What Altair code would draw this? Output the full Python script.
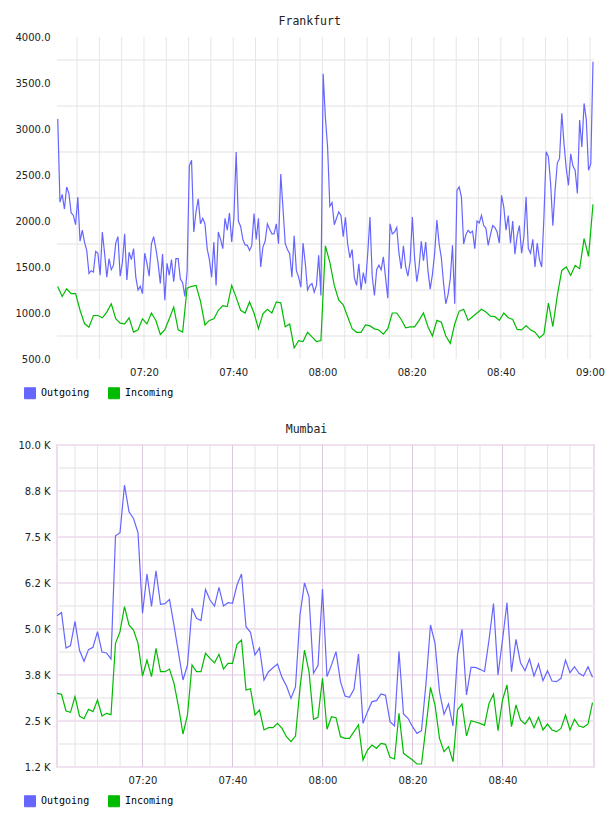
import altair as alt
import pandas as pd

FONT_MONO = "DejaVu Sans Mono"
FONT_SANS = "DejaVu Sans"

SERIES = ["Outgoing", "Incoming"]
SERIES_COLORS = ["#6666ff", "#00bb00"]

# Frankfurt outgoing traffic, one sample every 30 s from 07:00:40
fra_out = [
    3110, 2205, 2290, 2130, 2370, 2300, 2090, 2060, 1960, 2260,
    1780, 1900, 1770, 1680, 1430, 1460, 1445, 1670, 1650, 1410,
    1880, 1650, 1390, 1590, 1470, 1520, 1760, 1830, 1400, 1550,
    1860, 1360, 1660, 1580, 1700, 1390, 1250, 1290, 1210, 1650,
    1540, 1400, 1750, 1830, 1700, 1540, 1320, 1640, 1140, 1540,
    1410, 1580, 1340, 1590, 1590, 1370, 1330, 1180, 1450, 2600,
    2660, 1880, 2100, 2240, 1970, 2030, 1970, 1700, 1580, 1390,
    1770, 1300, 1880, 1800, 1700, 2030, 1900, 2087, 1772, 2040,
    2750, 2000, 1940, 1800, 1740, 1735, 1680, 1735, 2080, 1800,
    2030, 1500, 1717, 1780, 1970, 1910, 1860, 1860, 1970, 1753,
    2510, 2135, 1753, 1690, 1645, 1390, 1840, 1460, 1390, 1280,
    1760, 1540, 1250, 1300, 1320, 1227, 1300, 1626, 1191, 3600,
    3130, 2800, 2160, 2200, 1960, 2030, 2100, 2060, 1830, 2040,
    1750, 1600, 1690, 1380, 1300, 1536, 1250, 1440, 1320, 1650,
    2044, 1400, 1190, 1470, 1520, 1470, 1610, 1380, 1160, 1970,
    1860, 1880, 1930, 1650, 1480, 1730, 1500, 1400, 1560, 2044,
    1600, 1340, 1500, 1780, 1570, 1772, 1460, 1260, 1420, 1650,
    2010, 1750, 1600, 1320, 1100, 1200, 1372, 1735, 1100, 2335,
    2370, 2260, 1750, 1850, 1899, 1870, 1890, 1700, 2000, 1980,
    2060, 1950, 1920, 1735, 1850, 1950, 1930, 1880, 1760, 2280,
    2150, 1900, 2060, 1760, 2000, 1640, 1840, 1950, 1650, 1820,
    2262, 1700, 1650, 1800, 1500, 1760, 1580, 1500, 2044, 2752,
    2700, 2407, 1950, 2335, 2630, 2680, 3170, 2843, 2570, 2388,
    2730, 2600, 2550, 2300, 3097, 2806, 3278, 3100, 2552, 2620, 3732,
]

# Frankfurt incoming traffic, one sample per minute from 07:00:40
fra_in = [
    1289, 1180, 1263, 1210, 1210, 1030, 885, 846, 973, 973,
    948, 1010, 1100, 937, 890, 882, 948, 792, 817, 937,
    882, 1000, 919, 766, 817, 937, 1064, 817, 792, 1270,
    1290, 1300, 1130, 870, 919, 937, 1030, 1080, 1070, 1300,
    1170, 1030, 1000, 1120, 1000, 830, 990, 1040, 1000, 1120,
    1110, 850, 880, 620, 700, 690, 790, 740, 690, 700,
    1730, 1550, 1300, 1140, 1090, 960, 830, 790, 790, 870,
    860, 828, 815, 770, 830, 1000, 1000, 930, 840, 850,
    850, 920, 1000, 850, 750, 920, 900, 750, 670, 880,
    1020, 1040, 920, 960, 1000, 1040, 1010, 966, 960, 920,
    1000, 948, 930, 821, 817, 864, 817, 792, 730, 773,
    1107, 853, 1191, 1463, 1500, 1409, 1518, 1481, 1808, 1616, 2182,
]

# Mumbai traffic, one sample per minute from 07:01
mum_out = [
    5362, 5444, 4485, 4548, 5209, 4422, 4123, 4440, 4503, 4929,
    4376, 4349, 4186, 7535, 7616, 8912, 8187, 8005, 7616, 5426,
    6494, 5615, 6584, 5670, 5690, 5806, 5100, 4350, 3614, 4021,
    5562, 5290, 5227, 6076, 5787, 5624, 6132, 5624, 5715, 5697,
    6195, 6494, 5062, 4910, 4295, 4485, 3614, 3840, 3948, 4050,
    3685, 3450, 3115, 3432, 5380, 6252, 5875, 3795, 4004, 6086,
    3705, 4022, 4385, 3568, 3180, 3144, 3361, 4321, 2436, 2754,
    3026, 3053, 3234, 3198, 2482, 2364, 4385, 2690, 2573, 2346,
    2165, 2237, 3523, 5109, 4611, 3297, 2681, 2962, 2364, 4295,
    4991, 3207, 3958, 3958, 3904, 3840, 4702, 5693, 3750, 4702,
    5715, 3840, 4720, 4085, 3867, 4185, 3723, 4049, 3596, 3867,
    3587, 3568, 3660, 4158, 3813, 3976, 3795, 3723, 3976, 3686,
]
mum_in = [
    3252, 3225, 2772, 2735, 3162, 2636, 2563, 2817, 2754, 3071,
    2636, 2708, 2672, 4611, 4928, 5607, 5109, 4973, 4611, 3723,
    4158, 3705, 4475, 3840, 3840, 3912, 3523, 2889, 2147, 2663,
    4022, 3840, 3840, 4339, 4203, 4085, 4312, 3912, 4067, 4067,
    4584, 4702, 3342, 3378, 2663, 2799, 2256, 2319, 2319, 2436,
    2300, 2074, 1938, 2092, 3400, 4429, 3840, 2545, 2600, 3660,
    2274, 2617, 2590, 2074, 2029, 2029, 2210, 2391, 1440, 1712,
    1848, 1757, 1893, 1866, 1513, 1468, 2708, 1621, 1531, 1440,
    1332, 1332, 2346, 3414, 2935, 2029, 1667, 1803, 1395, 2799,
    2962, 2092, 2509, 2473, 2436, 2382, 2980, 3234, 2237, 3071,
    3477, 2346, 2935, 2527, 2418, 2600, 2319, 2600, 2256, 2418,
    2256, 2210, 2300, 2663, 2256, 2545, 2364, 2328, 2418, 2998,
]

# Axis ticks and grid levels
fra_y_ticks = [500, 1000, 1500, 2000, 2500, 3000, 3500, 4000]
fra_y_grid = [750, 1250, 1750, 2250, 2750, 3250, 3750]
mum_y_ticks = [1250, 2500, 3750, 5000, 6250, 7500, 8750, 10000]
mum_y_labels = ["1.2 K", "2.5 K", "3.8 K", "5.0 K", "6.2 K", "7.5 K", "8.8 K", "10.0 K"]
mum_y_grid = [1875, 3125, 4375, 5625, 6875, 8125, 9375]
fra_x_ticks = ["07:20", "07:40", "08:00", "08:20", "08:40", "09:00"]
mum_x_ticks = ["07:20", "07:40", "08:00", "08:20", "08:40"]
minor_minutes = ["07:05", "07:10", "07:15", "07:25", "07:30", "07:35", "07:45", "07:50",
                 "07:55", "08:05", "08:10", "08:15", "08:25", "08:30", "08:35", "08:45",
                 "08:50", "08:55"]

DAY = "2024-01-01"


def stamp(hhmm):
    return pd.Timestamp(f"{DAY} {hhmm}")


def dt(hhmm, seconds=0):
    h, m = hhmm.split(":")
    return alt.DateTime(year=2024, month=1, date=1, hours=int(h), minutes=int(m), seconds=seconds)


def long_frame(out_vals, out_step, out_start, in_vals, in_step, in_start):
    out_t = pd.date_range(f"{DAY} {out_start}", periods=len(out_vals), freq=out_step)
    in_t = pd.date_range(f"{DAY} {in_start}", periods=len(in_vals), freq=in_step)
    return pd.concat([
        pd.DataFrame({"t": out_t, "v": out_vals, "series": "Outgoing"}),
        pd.DataFrame({"t": in_t, "v": in_vals, "series": "Incoming"}),
    ], ignore_index=True)


fra_df = long_frame(fra_out, "30s", "07:00:40", fra_in, "60s", "07:00:40")
mum_df = long_frame(mum_out, "60s", "07:01:00", mum_in, "60s", "07:01:00")


def panel(title, df, x_domain, x_ticks, y_domain, y_ticks, y_label_expr, y_format,
          hgrid, vgrid_layers, width):
    x_scale = alt.Scale(domain=x_domain, nice=False)
    y_scale = alt.Scale(domain=y_domain, nice=False, zero=False)
    color_scale = alt.Scale(domain=SERIES, range=SERIES_COLORS)

    x_axis = alt.Axis(
        title=None, values=[dt(s) for s in x_ticks], format="%H:%M",
        grid=False, domain=False, ticks=False, labelFlush=False,
        labelFont=FONT_SANS, labelFontSize=10, labelColor="#222222", labelPadding=8,
    )
    y_axis_kw = dict(
        title=None, values=y_ticks, grid=False, domain=False, ticks=False,
        labelFont=FONT_SANS, labelFontSize=10, labelColor="#222222", labelPadding=7,
    )
    if y_label_expr:
        y_axis_kw["labelExpr"] = y_label_expr
    else:
        y_axis_kw["format"] = y_format
    y_axis = alt.Axis(**y_axis_kw)

    key_legend = alt.Legend(
        title=None, orient="none", legendX=-33, legendY=350,
        direction="horizontal", symbolType="square", symbolSize=121,
        symbolOpacity=1, symbolStrokeColor="#888888", symbolStrokeWidth=1,
        labelFont=FONT_MONO, labelFontSize=10, labelColor="#000000",
        labelOffset=5, columnPadding=16, padding=0,
    )
    color_enc = alt.Color("series:N", scale=color_scale, legend=key_legend)

    # invisible filled squares, so the series key shows filled swatches
    key = alt.Chart(df).mark_square(opacity=0, size=1, filled=True).encode(
        x=alt.X("t:T", scale=x_scale, axis=x_axis),
        y=alt.Y("v:Q", scale=y_scale, axis=y_axis),
        color=color_enc,
    )
    layers = [key]
    for values, color, sw in hgrid:
        layers.append(
            alt.Chart(pd.DataFrame({"v": values})).mark_rule(color=color, strokeWidth=sw)
            .encode(y=alt.Y("v:Q", scale=y_scale, axis=y_axis))
        )
    for times, color, sw in vgrid_layers:
        layers.append(
            alt.Chart(pd.DataFrame({"t": [stamp(s) for s in times]}))
            .mark_rule(color=color, strokeWidth=sw)
            .encode(x=alt.X("t:T", scale=x_scale, axis=x_axis))
        )

    lines = alt.Chart(df).mark_line(strokeWidth=1.2).encode(
        x=alt.X("t:T", scale=x_scale, axis=x_axis),
        y=alt.Y("v:Q", scale=y_scale, axis=y_axis),
        color=color_enc,
        order=alt.Order("t:T"),
    )
    layers.append(lines)

    return alt.layer(*layers).properties(
        width=width, height=322,
        title=alt.TitleParams(text=title, font=FONT_MONO, fontSize=11.5, fontWeight="normal",
                              color="#222222", anchor="middle", frame="bounds", offset=5),
    )


fra_chart = panel(
    "Frankfurt", fra_df,
    [dt("07:00", 30), dt("09:00", 40)], fra_x_ticks,
    [500, 4000], fra_y_ticks, None, ".1f",
    [(fra_y_grid, "#f0f0f0", 2)],
    [(minor_minutes + fra_x_ticks, "#e6e6e6", 1)],
    536,
)

expr = "''"
for v, lab in zip(mum_y_ticks, mum_y_labels):
    expr = f"datum.value == {v} ? '{lab}' : ({expr})"

mum_chart = panel(
    "Mumbai", mum_df,
    [dt("07:01"), dt("09:00", 20)], mum_x_ticks,
    [1250, 10000], mum_y_ticks, expr, None,
    [(mum_y_grid, "#f0f0f0", 2), (mum_y_ticks, "#f0e2f0", 2)],
    [(minor_minutes, "#e8e2e8", 1), (mum_x_ticks, "#dcc8dc", 1)],
    537,
).properties(view=alt.ViewBackground(stroke="#eadcea", strokeWidth=2))

chart = alt.vconcat(fra_chart, mum_chart, spacing=21).resolve_scale(
    x="independent", y="independent", color="independent"
).resolve_legend(color="independent").properties(
    padding={"left": 15, "top": 15, "right": 0, "bottom": 0}
).configure_view(stroke=None)

chart.save("out.html", embed_options={"renderer": "svg", "actions": False})
